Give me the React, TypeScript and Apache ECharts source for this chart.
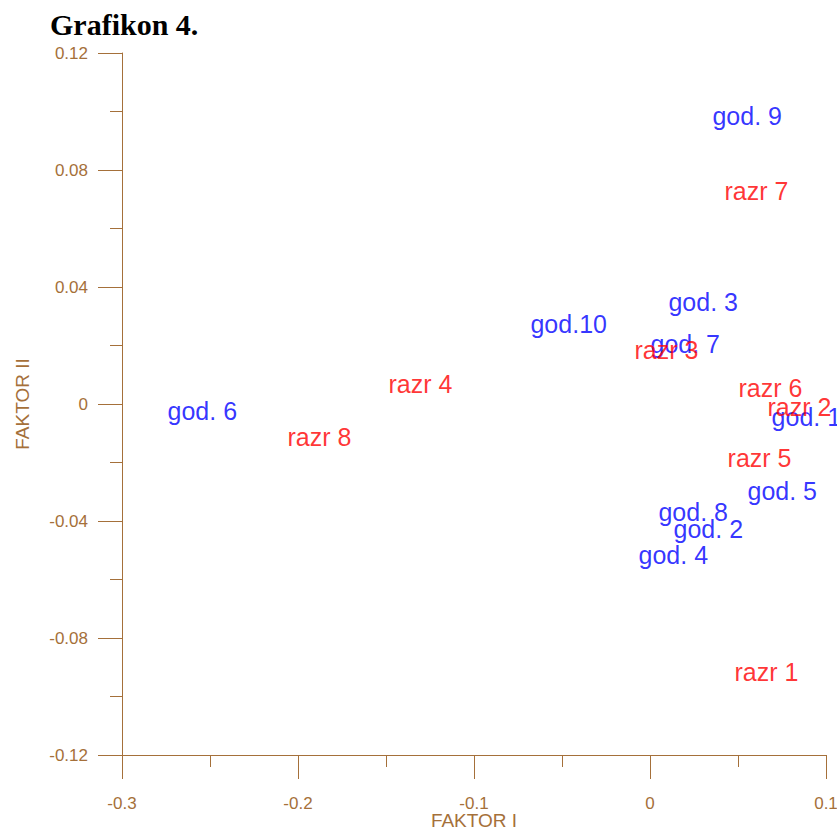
import React, { useEffect, useRef } from "react";
import * as echarts from "echarts";

const godNames = ["god. 1", "god. 2", "god. 3", "god. 4", "god. 5", "god. 6", "god. 7", "god. 8", "god. 9", "god.10"];
const godX = [0.0688, 0.0131, 0.0102, -0.0068, 0.0551, -0.2744, 0.0, 0.0045, 0.0352, -0.0682];
const godY = [-0.0044, -0.0427, 0.0349, -0.0516, -0.0297, -0.0024, 0.0205, -0.0369, 0.0985, 0.0274];

const razrNames = ["razr 1", "razr 2", "razr 3", "razr 4", "razr 5", "razr 6", "razr 7", "razr 8"];
const razrX = [0.0477, 0.0665, -0.0091, -0.1489, 0.0438, 0.05, 0.042, -0.2063];
const razrY = [-0.0916, -0.001, 0.0185, 0.0068, -0.0185, 0.0055, 0.0728, -0.0113];

const AXIS = "#A5703A";

export default function App() {
  const ref = useRef<HTMLDivElement>(null);
  useEffect(() => {
    const chart = echarts.init(ref.current!, null, { renderer: "svg" });
    const mk = (names: string[], xs: number[], ys: number[]) =>
      names.map((n, i) => ({ name: n, value: [xs[i], ys[i]] }));
    const labelCommon = {
      show: true,
      position: "right" as const,
      distance: 0,
      formatter: "{b}",
      fontFamily: "Liberation Sans, Arial, sans-serif",
      fontSize: 25,
    };
    const axisCommon = {
      axisLine: { show: true, onZero: false, lineStyle: { color: AXIS, width: 1 } },
      axisTick: { show: true, length: 24, lineStyle: { color: AXIS, width: 1 } },
      minorTick: { show: true, splitNumber: 2, length: 12, lineStyle: { color: AXIS, width: 1 } },
      splitLine: { show: false },
      nameMoveOverlap: false,
      nameTextStyle: { color: AXIS, fontFamily: "Liberation Sans, Arial, sans-serif", fontSize: 19 },
    };
    chart.setOption({
      animation: false,
      backgroundColor: "#ffffff",
      title: {
        text: "Grafikon 4.",
        left: 45,
        top: 4,
        textStyle: {
          fontFamily: "Liberation Serif, Times New Roman, serif",
          fontWeight: "bold",
          fontSize: 30,
          color: "#000000",
        },
      },
      grid: { left: 122, right: 11, top: 53, bottom: 75, containLabel: false, outerBoundsMode: "none" },
      xAxis: {
        type: "value",
        min: -0.3,
        max: 0.1,
        interval: 0.1,
        name: "FAKTOR I",
        nameLocation: "middle",
        nameGap: 56,
        ...axisCommon,
        axisLabel: {
          color: AXIS,
          fontFamily: "Liberation Sans, Arial, sans-serif",
          fontSize: 17,
          margin: 40,
        },
      },
      yAxis: {
        type: "value",
        min: -0.12,
        max: 0.12,
        interval: 0.04,
        name: "FAKTOR II",
        nameLocation: "middle",
        nameGap: 90,
        ...axisCommon,
        axisLabel: {
          color: AXIS,
          fontFamily: "Liberation Sans, Arial, sans-serif",
          fontSize: 17,
          margin: 34,
        },
      },
      series: [
        {
          type: "scatter",
          symbolSize: 1,
          itemStyle: { color: "rgba(0,0,0,0)" },
          clip: false,
          label: { ...labelCommon, color: "#0000FF" },
          data: mk(godNames, godX, godY),
        },
        {
          type: "scatter",
          symbolSize: 1,
          itemStyle: { color: "rgba(0,0,0,0)" },
          clip: false,
          label: { ...labelCommon, color: "#FF0000" },
          data: mk(razrNames, razrX, razrY),
        },
      ],
    });
    return () => chart.dispose();
  }, []);
  return (
    <div
      ref={ref}
      style={{ position: "fixed", left: 0, top: 0, width: 837, height: 830, background: "#fff" }}
    />
  );
}
